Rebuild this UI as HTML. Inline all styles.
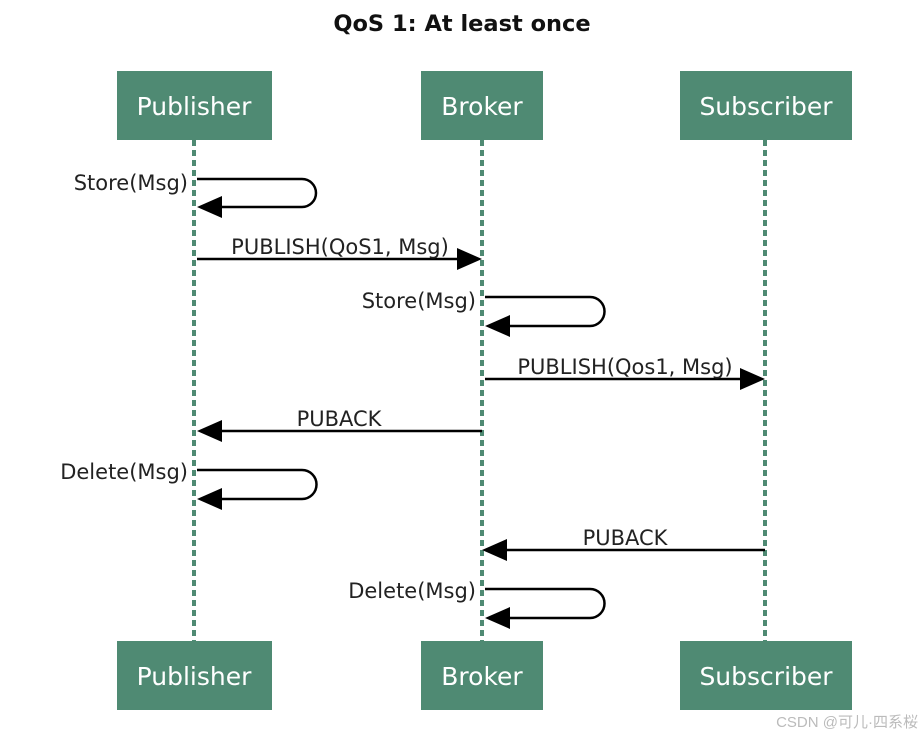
<!DOCTYPE html><html><head><style>body{margin:0;background:#fff}</style></head><body>
<svg width="923" height="737" xmlns="http://www.w3.org/2000/svg" font-family="'DejaVu Sans','Liberation Sans',sans-serif">
<text x="462" y="31" text-anchor="middle" font-size="22.5" font-weight="bold" fill="#111">QoS 1: At least once</text>
<g stroke="#4f8a73" stroke-width="4" stroke-dasharray="6,4"><line x1="194" y1="140" x2="194" y2="641"/><line x1="482" y1="140" x2="482" y2="641"/><line x1="765" y1="140" x2="765" y2="641"/></g>
<g fill="#4f8a73"><rect x="117" y="71" width="155" height="69"/><rect x="421" y="71" width="122" height="69"/><rect x="680" y="71" width="172" height="69"/><rect x="117" y="641" width="155" height="69"/><rect x="421" y="641" width="122" height="69"/><rect x="680" y="641" width="172" height="69"/></g>
<g fill="#fff" font-size="25" text-anchor="middle"><text x="194" y="115">Publisher</text><text x="482" y="115">Broker</text><text x="766" y="115">Subscriber</text><text x="194" y="685">Publisher</text><text x="482" y="685">Broker</text><text x="766" y="685">Subscriber</text></g>
<g stroke="#000" stroke-width="2.5" fill="none">
<path d="M197,179 H302 a14,14 0 0 1 0,28 H218"/><path d="M485,297 H590 a14,14 0 0 1 0,29 H506"/><path d="M197,470 H302 a14,14 0 0 1 0,29 H218"/><path d="M485,589 H590 a14,14 0 0 1 0,29 H506"/>
<line x1="197" y1="259" x2="460" y2="259"/><line x1="485" y1="379" x2="743" y2="379"/><line x1="482" y1="431" x2="218" y2="431"/><line x1="765" y1="550" x2="506" y2="550"/></g>
<g fill="#000"><path d="M197,207 L222,196 L222,218z"/><path d="M485,326 L510,315 L510,337z"/><path d="M197,499 L222,488 L222,510z"/><path d="M485,618 L510,607 L510,629z"/>
<path d="M482,259 L457,248 L457,270z"/><path d="M765,379 L740,368 L740,390z"/><path d="M197,431 L222,420 L222,442z"/><path d="M482,550 L507,539 L507,561z"/></g>
<g font-size="21" fill="#222"><text x="188" y="190" text-anchor="end">Store(Msg)</text><text x="476" y="308" text-anchor="end">Store(Msg)</text><text x="188" y="479" text-anchor="end">Delete(Msg)</text><text x="476" y="598" text-anchor="end">Delete(Msg)</text>
<text x="340" y="254" text-anchor="middle">PUBLISH(QoS1, Msg)</text><text x="625" y="374" text-anchor="middle">PUBLISH(Qos1, Msg)</text><text x="339" y="426" text-anchor="middle">PUBACK</text><text x="625" y="545" text-anchor="middle">PUBACK</text></g>
<text x="918" y="727" text-anchor="end" font-size="15" fill="#bbb" font-family="'Liberation Sans','Noto Sans CJK SC',sans-serif">CSDN @可儿·四系桜</text>
</svg></body></html>
